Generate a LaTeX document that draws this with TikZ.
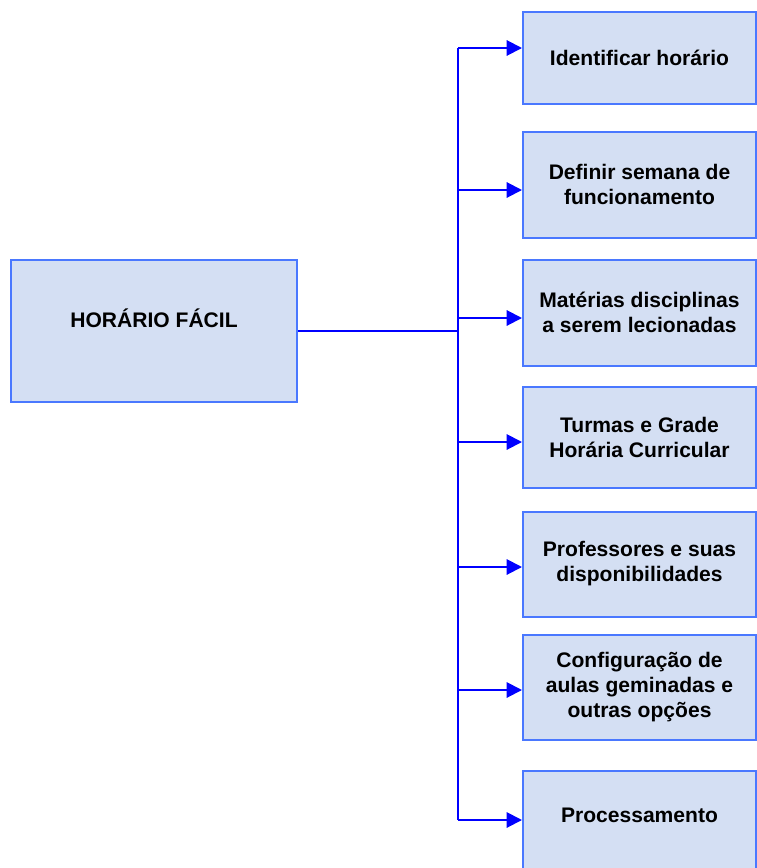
\documentclass[tikz,border=0pt]{standalone}
\usepackage{fontspec}
\setmainfont{Liberation Sans}
\usepackage{tikz}
\usetikzlibrary{arrows.meta}

\definecolor{boxfill}{RGB}{212,223,243}
\definecolor{boxline}{RGB}{74,120,255}
\definecolor{wire}{RGB}{0,0,255}

\begin{document}
\begin{tikzpicture}[
      x=0.75pt, y=-0.75pt,
      box/.style={draw=boxline, fill=boxfill, line width=1.5pt, align=center,
                  font=\fontsize{15.8}{18.75}\selectfont\bfseries, inner sep=3pt,
                  minimum width=174.75pt},
      ar/.style={-{Triangle[length=11.5pt, width=11.5pt]}, draw=wire, line width=1.5pt},
      ln/.style={draw=wire, line width=1.5pt}
    ]
    \useasboundingbox (0,0) rectangle (757,868);
    % main box
    \node[box, minimum width=214.5pt, minimum height=106.5pt, text depth=19.5pt] (hf) at (154,331) {HORÁRIO FÁCIL};
    % steps
    \node[box, minimum height=69pt]    (b1) at (639.5,57.5) {Identificar horário};
    \node[box, minimum height=79.5pt]  (b2) at (639.5,184.5) {Definir semana de\\funcionamento};
    \node[box, minimum height=79.5pt]  (b3) at (639.5,312.5) {Matérias disciplinas\\a serem lecionadas};
    \node[box, minimum height=75.75pt] (b4) at (639.5,437) {Turmas e Grade\\Horária Curricular};
    \node[box, minimum height=78.75pt] (b5) at (639.5,564) {Professores e suas\\disponibilidades};
    \node[box, minimum height=78.75pt] (b6) at (639.5,687) {Configuração de\\aulas geminadas e\\outras opções};
    \node[box, minimum height=79.5pt, text depth=13.5pt] (b7) at (639.5,824) {Processamento};
    % bus
    \coordinate (j1) at (458,48);
    \coordinate (j2) at (458,190);
    \coordinate (j3) at (458,318);
    \coordinate (j4) at (458,442);
    \coordinate (j5) at (458,567);
    \coordinate (j6) at (458,690);
    \coordinate (j7) at (458,820);
    \coordinate (jm) at (458,331);
    \draw[ln] (j1) -- (j7);
    \draw[ln] (hf.east |- jm) -- (jm);
    \draw[ar] (j1) -- (j1 -| b1.west);
    \draw[ar] (j2) -- (j2 -| b2.west);
    \draw[ar] (j3) -- (j3 -| b3.west);
    \draw[ar] (j4) -- (j4 -| b4.west);
    \draw[ar] (j5) -- (j5 -| b5.west);
    \draw[ar] (j6) -- (j6 -| b6.west);
    \draw[ar] (j7) -- (j7 -| b7.west);
  \end{tikzpicture}
\end{document}
